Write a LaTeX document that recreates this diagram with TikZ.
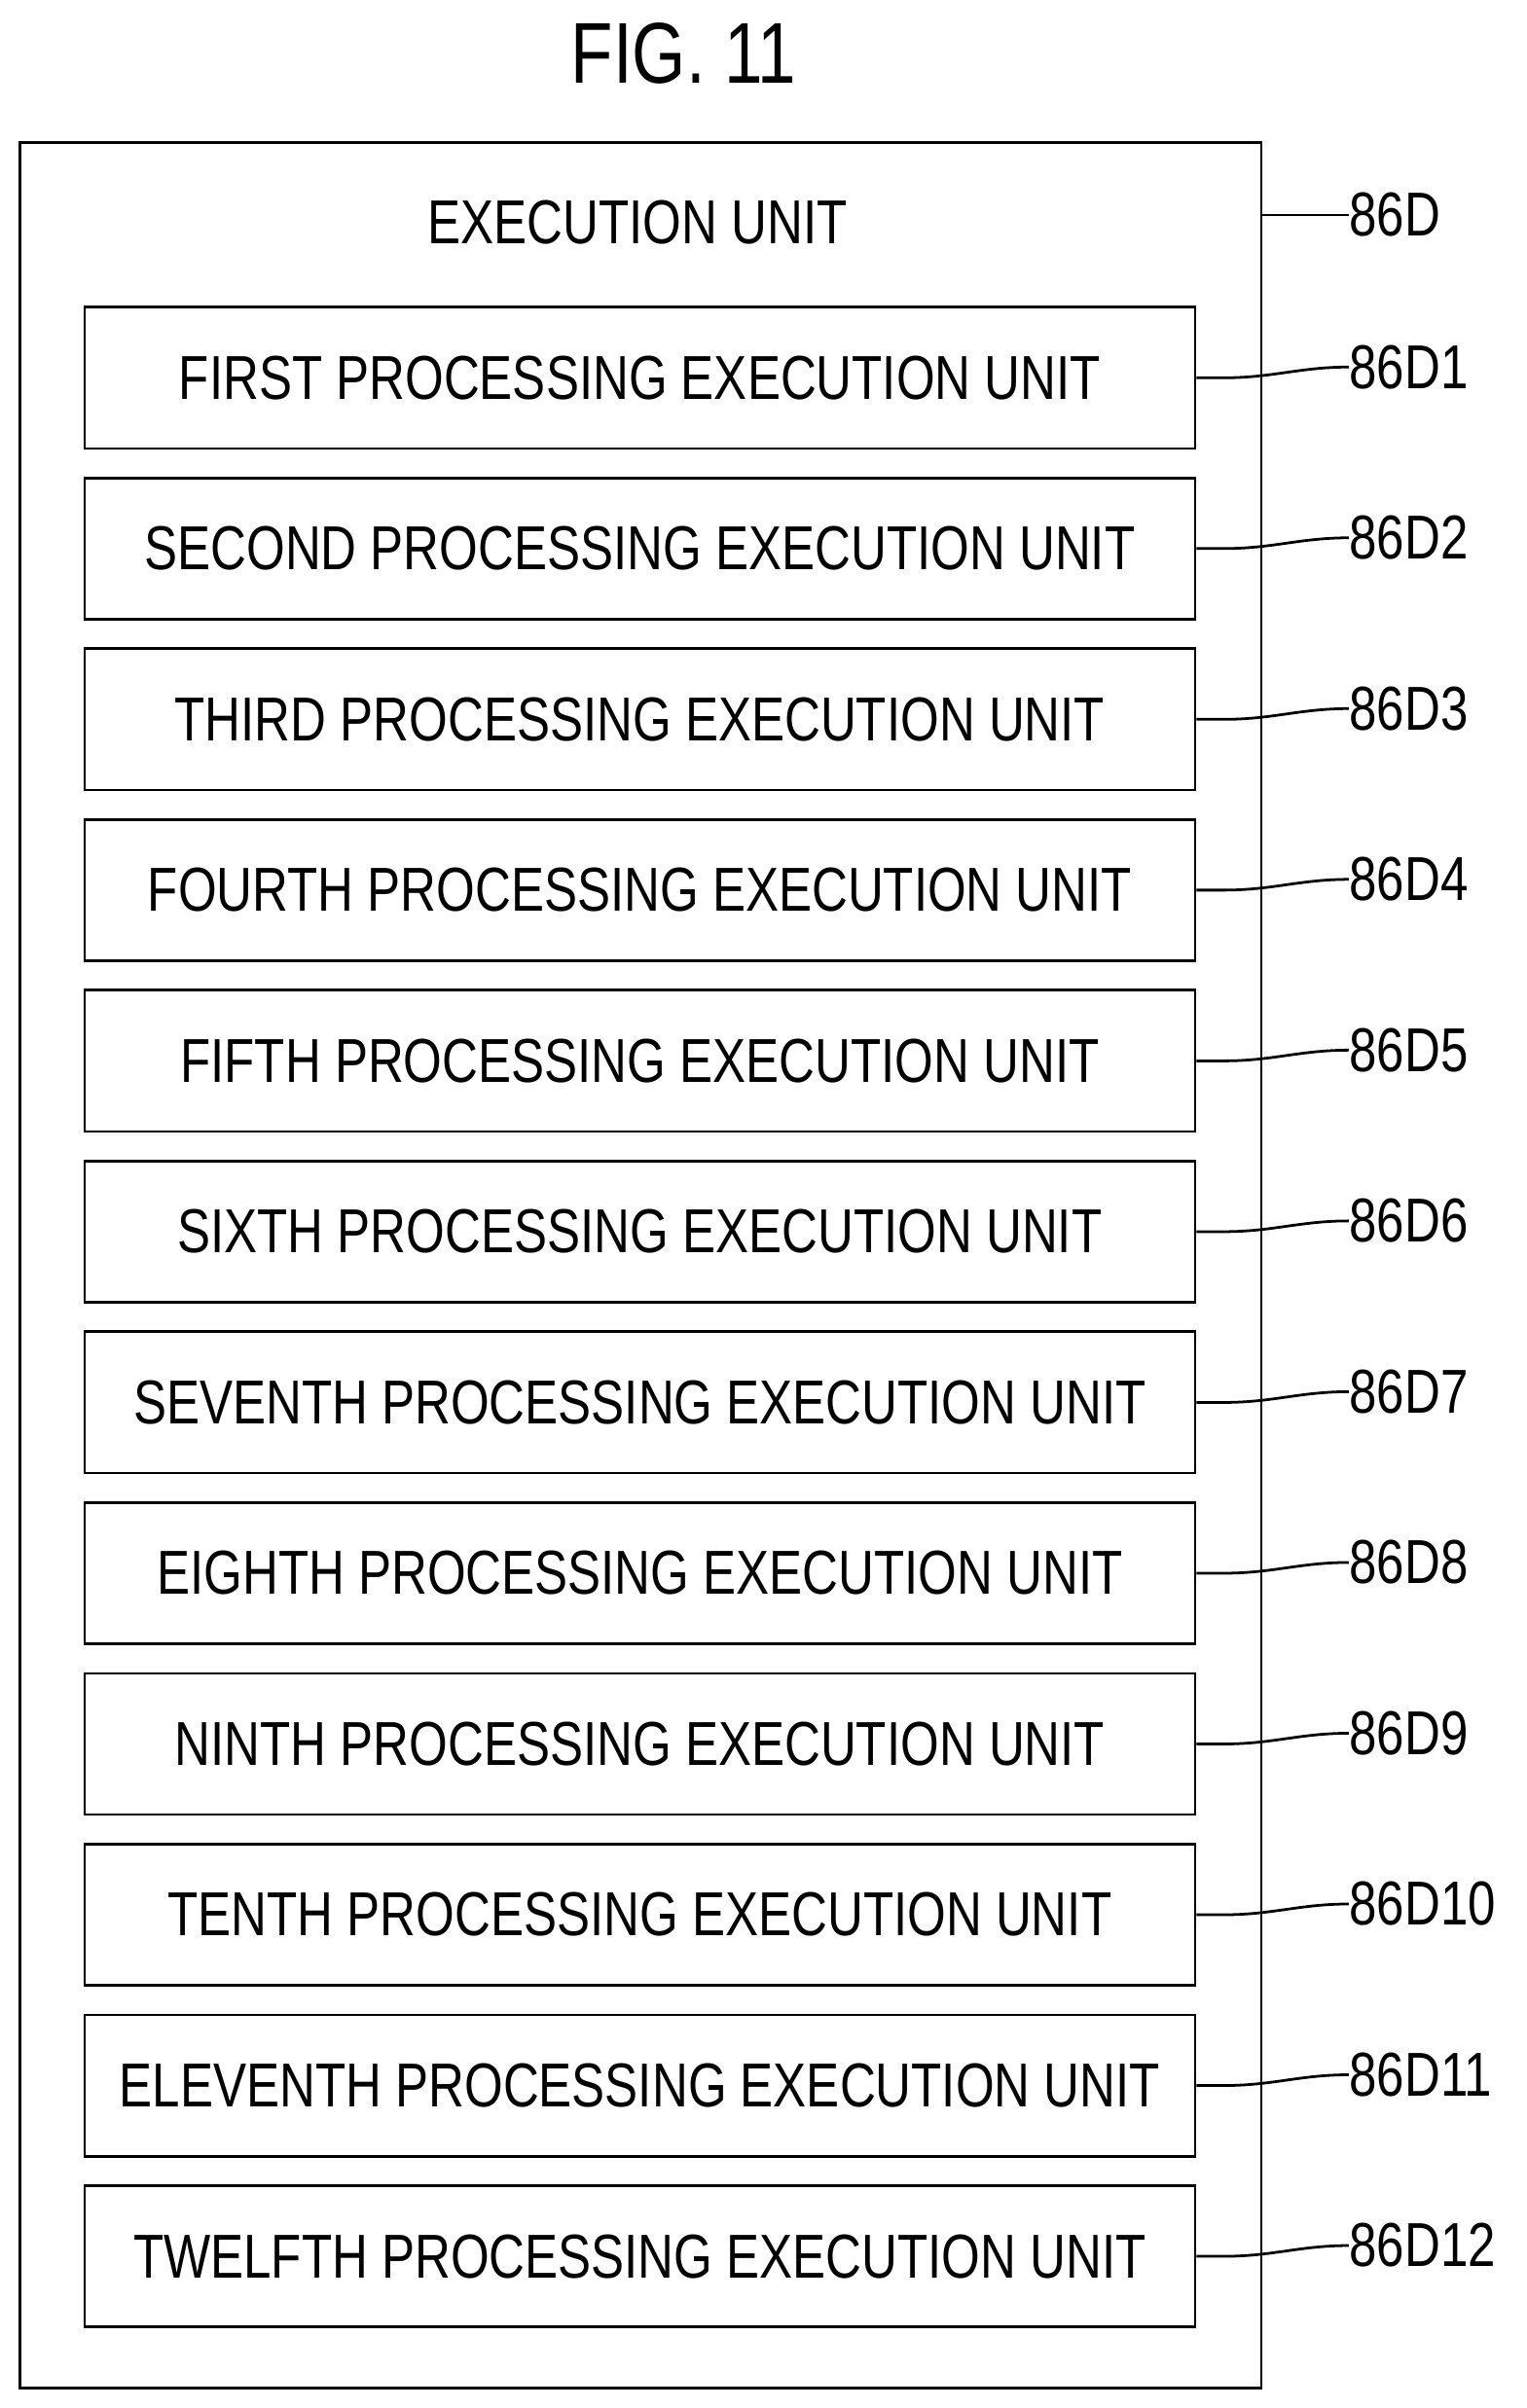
\documentclass[tikz,border=0pt]{standalone}
\usepackage{fontspec}
\setmainfont{Liberation Sans}
\usetikzlibrary{positioning}
\newcommand\nw[1]{\scalebox{0.8}[1]{#1}}

\begin{document}
\begin{tikzpicture}[
  x=0.02cm, y=-0.02cm,
  unitbox/.style={draw, line width=1pt, minimum width=14.46cm, minimum height=1.84cm, font=\fontsize{23}{26}\selectfont},
  reflbl/.style={anchor=west, inner sep=0pt, font=\fontsize{23}{26}\selectfont},
  leader/.style={line width=1pt},
]
  \useasboundingbox (0,0) rectangle (994,1568);

  % Title
  \node[font=\fontsize{32}{36}\selectfont] (fig) at (445,35) {\nw{FIG. 11}};

  % Outer unit
  \draw[line width=1pt] (13,93) rectangle (821,1555);
  \coordinate (outer) at (821,140);
  \node (exec) at (415,145) [font=\fontsize{23}{26}\selectfont] {\nw{EXECUTION UNIT}};
  \node[reflbl] (l0) at (878,140) {\nw{86D}};
  \draw[leader] (outer) to[out=0,in=180] (l0.west);

  % Processing execution units
  \foreach \i/\name in {1/FIRST,2/SECOND,3/THIRD,4/FOURTH,5/FIFTH,6/SIXTH,
      7/SEVENTH,8/EIGHTH,9/NINTH,10/TENTH,11/ELEVENTH,12/TWELFTH}{
    \node[unitbox] (b\i) at (416.5,{246+111.2*(\i-1)}) {\nw{\name\ PROCESSING EXECUTION UNIT}};
    \node[reflbl] (l\i) at (878,{239+111.2*(\i-1)}) {\nw{86D\i}};
    \draw[leader] (b\i.east) -- ++(18,0) to[out=0,in=180] (l\i.west);
  }
\end{tikzpicture}
\end{document}
